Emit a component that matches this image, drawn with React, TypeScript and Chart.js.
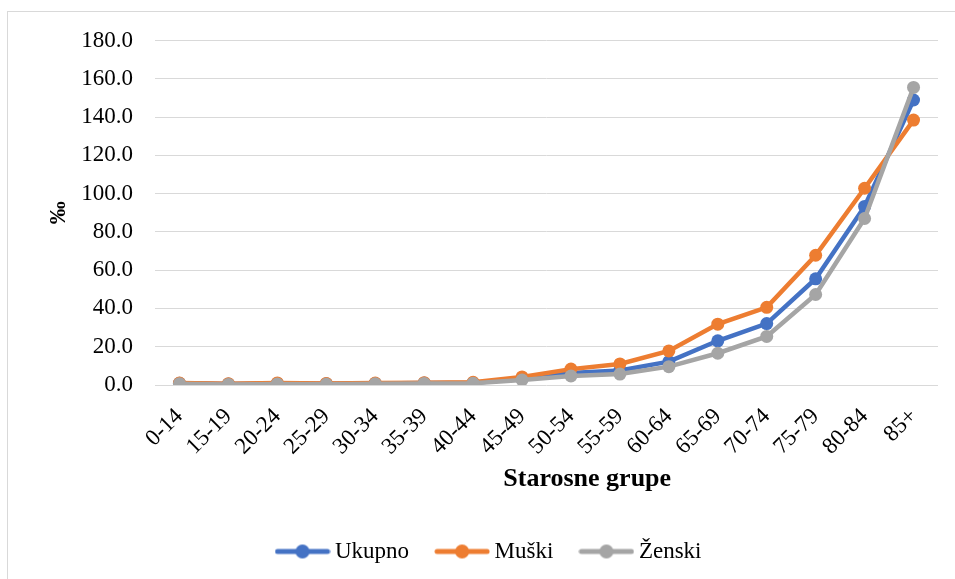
import React, { useEffect, useRef } from "react";
import { Chart, registerables } from "chart.js";

Chart.register(...registerables);

const categories = ["0-14", "15-19", "20-24", "25-29", "30-34", "35-39", "40-44", "45-49", "50-54", "55-59", "60-64", "65-69", "70-74", "75-79", "80-84", "85+"];
const ukupno = [0.9, 0.5, 0.8, 0.6, 0.8, 1.0, 1.1, 3.3, 6.3, 7.6, 12.2, 23.1, 32.1, 55.5, 93.3, 148.9];
const muski = [1.0, 0.7, 1.1, 0.8, 1.0, 1.2, 1.4, 4.2, 8.3, 11.0, 17.8, 31.8, 40.6, 67.8, 102.8, 138.4];
const zenski = [0.6, 0.3, 0.5, 0.4, 0.6, 0.8, 0.9, 2.6, 4.7, 5.7, 9.6, 16.6, 25.4, 47.3, 87.0, 155.5];
const seriesNames = ["Ukupno", "Muški", "Ženski"];
const seriesColors = ["#4472C4", "#ED7D31", "#A5A5A5"];
const yTicks = [0, 20, 40, 60, 80, 100, 120, 140, 160, 180];
const xTitle = "Starosne grupe";
const yTitle = "‰";

const FONT = "'Liberation Serif', 'Times New Roman', serif";

function legendMarker(color: string): HTMLCanvasElement {
  const c = document.createElement("canvas");
  c.width = 56;
  c.height = 16;
  const g = c.getContext("2d")!;
  g.strokeStyle = color;
  g.lineWidth = 5;
  g.lineCap = "round";
  g.beginPath();
  g.moveTo(3, 8);
  g.lineTo(53, 8);
  g.stroke();
  g.fillStyle = color;
  g.beginPath();
  g.arc(28, 8, 7, 0, Math.PI * 2);
  g.fill();
  return c;
}

export default function App() {
  const ref = useRef<HTMLCanvasElement>(null);

  useEffect(() => {
    if (!ref.current) return;
    const data = [ukupno, muski, zenski];
    const markers = seriesColors.map(legendMarker);

    const xTitlePlugin = {
      id: "xTitlePlugin",
      afterDraw(chart: any) {
        const ctx = chart.ctx;
        const area = chart.chartArea;
        ctx.save();
        ctx.font = `bold 26px ${FONT}`;
        ctx.fillStyle = "#000";
        ctx.textAlign = "center";
        ctx.textBaseline = "middle";
        ctx.fillText(xTitle, area.left + (area.right - area.left) * 0.552, area.bottom + 94);
        ctx.restore();
      },
    };

    const chart = new Chart(ref.current, {
      type: "line",
      data: {
        labels: categories,
        datasets: data.map((d, i) => ({
          label: seriesNames[i],
          data: d,
          borderColor: seriesColors[i],
          backgroundColor: seriesColors[i],
          pointBackgroundColor: seriesColors[i],
          pointBorderColor: seriesColors[i],
          pointRadius: 6.5,
          pointBorderWidth: 0,
          borderWidth: 4.5,
          tension: 0,
          fill: false,
          order: 2 - i,
        })),
      },
      plugins: [xTitlePlugin],
      options: {
        animation: false,
        responsive: false,
        maintainAspectRatio: false,
        layout: { padding: { left: 37, right: 34, top: 28.5, bottom: 17 } },
        plugins: {
          tooltip: { enabled: false },
          title: { display: false },
          legend: {
            position: "bottom",
            labels: {
              usePointStyle: true,
              pointStyleWidth: 42,
              padding: 32,
              color: "#000",
              font: { family: FONT, size: 23 },
              generateLabels: (ch: any) =>
                ch.data.datasets.map((ds: any, i: number) => ({
                  text: ds.label,
                  fillStyle: seriesColors[i],
                  strokeStyle: seriesColors[i],
                  lineWidth: 0,
                  pointStyle: markers[i],
                  hidden: false,
                  datasetIndex: i,
                  fontColor: "#000",
                })),
            },
          },
        },
        scales: {
          x: {
            type: "category",
            offset: true,
            grid: { display: false, drawTicks: false },
            border: { display: false },
            ticks: {
              color: "#000",
              font: { family: FONT, size: 23 },
              minRotation: 45,
              maxRotation: 45,
              padding: 18,
              autoSkip: false,
            },
            afterFit: (s: any) => {
              s.height = 123;
              s.paddingLeft = 0;
              s.paddingRight = 0;
            },
          },
          y: {
            min: 0,
            max: 180,
            grid: { color: "#d9d9d9", lineWidth: 1, drawTicks: false },
            border: { display: false },
            afterBuildTicks: (s: any) => {
              s.ticks = yTicks.map((v) => ({ value: v }));
            },
            ticks: {
              color: "#000",
              font: { family: FONT, size: 23 },
              padding: 22,
              callback: (v: any) => Number(v).toFixed(1),
            },
            title: {
              display: true,
              text: yTitle,
              color: "#000",
              font: { family: FONT, size: 23, weight: "bold" },
              padding: 0,
            },
            afterFit: (s: any) => {
              s.width = 110;
              s.paddingTop = 0;
              s.paddingBottom = 0;
            },
          },
        },
      },
    });
    return () => chart.destroy();
  }, []);

  return (
    <div style={{ position: "fixed", left: 0, top: 0, width: 955, height: 579, overflow: "hidden", background: "#fff" }}>
      <div
        style={{
          position: "absolute",
          left: 7,
          top: 11,
          width: 966,
          height: 580,
          border: "1px solid #d9d9d9",
          boxSizing: "border-box",
          background: "#fff",
        }}
      >
        <canvas ref={ref} width={964} height={578} style={{ display: "block", width: 964, height: 578 }} />
      </div>
    </div>
  );
}
